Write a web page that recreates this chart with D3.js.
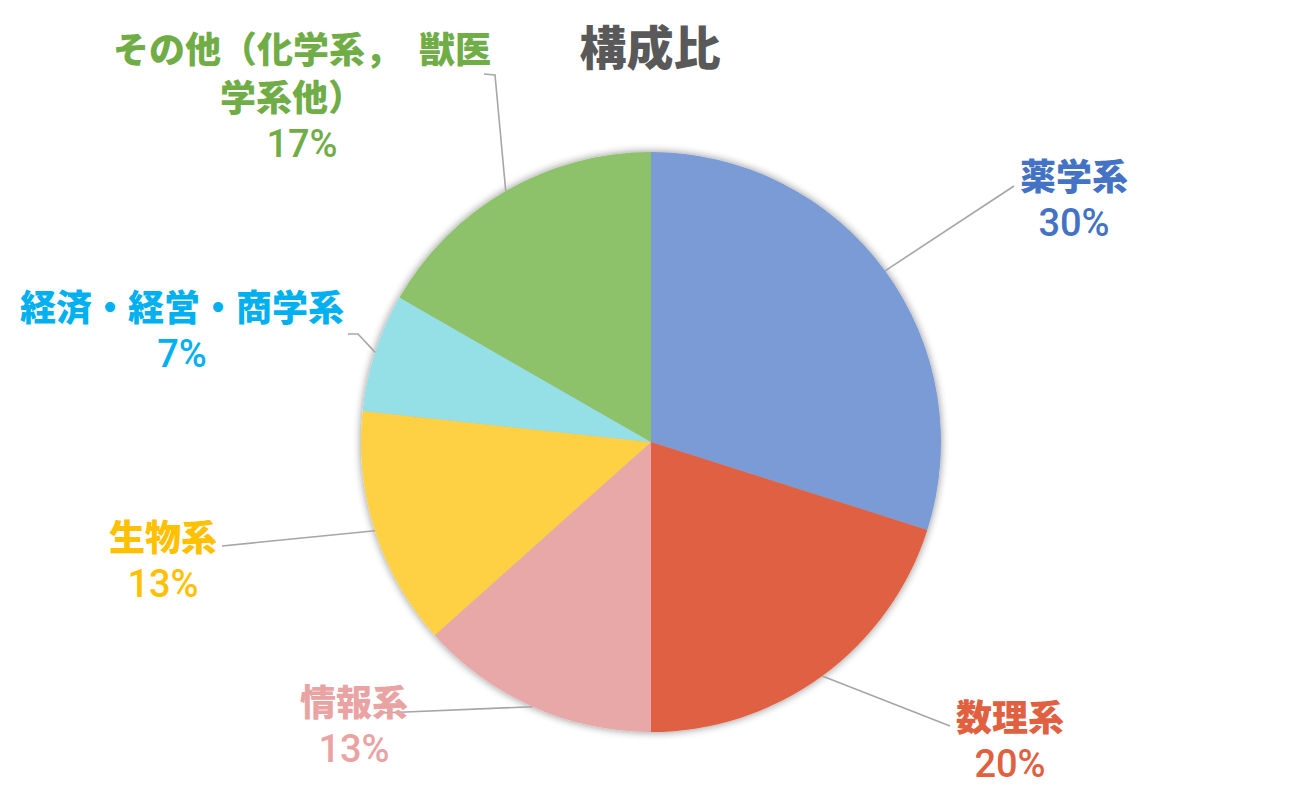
<!DOCTYPE html>
<html>
<head>
<meta charset="utf-8">
<script src="https://cdn.jsdelivr.net/npm/d3@7"></script>
<style>
  html, body { margin: 0; padding: 0; background: #fff; }
  svg { display: block; }
</style>
</head>
<body>
<svg id="chart" width="1302" height="799"></svg>
<script>
// ---- data ----
const title = "構成比";
const categories = ["薬学系", "数理系", "情報系", "生物系", "経済・経営・商学系", "その他（化学系， 獣医学系他）"];
const values = [29.9, 20.1, 13.4, 13.3, 6.6, 16.7];
const percentLabels = ["30%", "20%", "13%", "13%", "7%", "17%"];
const labelLines = [["薬学系"], ["数理系"], ["情報系"], ["生物系"], ["経済・経営・商学系"], ["その他（化学系，　獣医", "学系他）"]];
const sliceColors = ["#7A9BD6", "#DF6142", "#E9A8A8", "#FED144", "#95DFE6", "#8DC26B"];
const textColors = ["#4472C4", "#E0603F", "#E9A3A3", "#FFC000", "#00B0F0", "#70AD47"];

// ---- layout (label anchor, elbow point) ----
const labelLayout = [
  { x: 1074, y: 190, elbow: [1014, 186] },
  { x: 1010, y: 731, elbow: [950, 726] },
  { x: 354, y: 716, elbow: [382, 713] },
  { x: 163, y: 551, elbow: [222, 546] },
  { x: 182, y: 321, elbow: [348, 334], elbow2: [358, 334] },
  { x: 302, y: 63, elbow: [484, 74], elbow2: [495, 75], line2dx: -10 }
];

const svg = d3.select("#chart");
const cx = 651, cy = 442, r = 290;
const fontCJK = "'Noto Sans CJK JP', 'Noto Sans', sans-serif";

const defs = svg.append("defs");
const f = defs.append("filter").attr("id", "shadow").attr("x", "-20%").attr("y", "-20%").attr("width", "140%").attr("height", "140%");
f.append("feGaussianBlur").attr("in", "SourceAlpha").attr("stdDeviation", 4).attr("result", "b");
f.append("feOffset").attr("in", "b").attr("dx", 0).attr("dy", 0).attr("result", "o");
f.append("feComponentTransfer").attr("in", "o").attr("result", "s")
  .append("feFuncA").attr("type", "linear").attr("slope", 0.45);
const m = f.append("feMerge");
m.append("feMergeNode").attr("in", "s");
m.append("feMergeNode").attr("in", "SourceGraphic");

// title
svg.append("text")
  .attr("x", 650).attr("y", 65)
  .attr("text-anchor", "middle")
  .attr("font-family", fontCJK)
  .attr("font-weight", 900)
  .attr("font-size", 47)
  .attr("fill", "#595959")
  .text(title);

const pie = d3.pie().sort(null).value(d => d)(values);
const arc = d3.arc().innerRadius(0).outerRadius(r);

const g = svg.append("g").attr("transform", `translate(${cx},${cy})`);
g.append("g").attr("filter", "url(#shadow)")
  .selectAll("path").data(pie).join("path")
  .attr("d", arc)
  .attr("fill", (d, i) => sliceColors[i]);

// leader lines
const leaders = svg.append("g");
pie.forEach((d, i) => {
  const a = (d.startAngle + d.endAngle) / 2;
  const px = cx + r * Math.sin(a), py = cy - r * Math.cos(a);
  const L = labelLayout[i];
  const pts = [L.elbow];
  if (L.elbow2) pts.push(L.elbow2);
  pts.push([px, py]);
  leaders.append("path")
    .attr("d", d3.line()(pts))
    .attr("fill", "none")
    .attr("stroke", "#A6A6A6")
    .attr("stroke-width", 1.6);
});

// labels
const labels = svg.append("g");
labelLines.forEach((lines, i) => {
  const L = labelLayout[i];
  const t = labels.append("text")
    .attr("text-anchor", "middle")
    .attr("fill", textColors[i]);
  lines.forEach((ln, j) => {
    t.append("tspan")
      .attr("x", L.x + (j > 0 && L.line2dx ? L.line2dx : 0))
      .attr("y", L.y + j * 48)
      .attr("font-family", fontCJK)
      .attr("font-weight", 900)
      .attr("font-size", 36)
      .text(ln);
  });
  t.append("tspan")
    .attr("x", L.x)
    .attr("y", L.y + lines.length * 48 - 2)
    .attr("font-family", "Roboto, 'Noto Sans', sans-serif")
    .attr("font-weight", 500)
    .attr("font-size", 38)
    .text(percentLabels[i]);
});
</script>
</body>
</html>
